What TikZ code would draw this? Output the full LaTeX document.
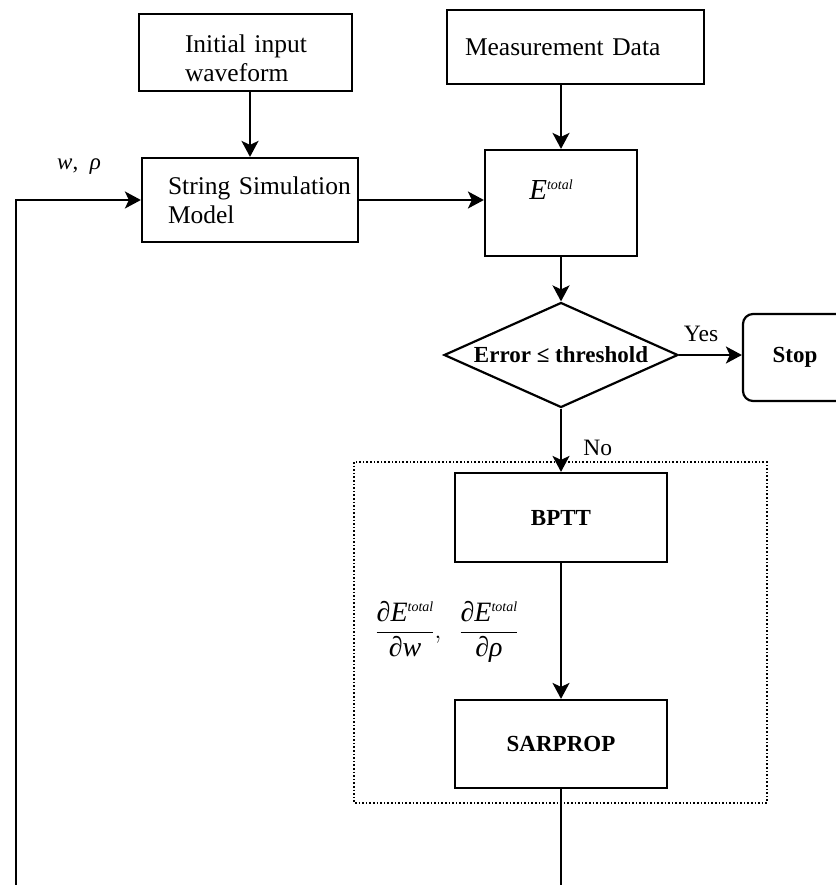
\documentclass[tikz,border=0pt]{standalone}
\usepackage{fontspec}
\usepackage{amsmath}
\setmainfont{Liberation Serif}
\usetikzlibrary{arrows.meta,shapes.geometric}
\newcommand{\etot}{\textit{E}\raisebox{10pt}{\fontsize{14}{14}\selectfont\itshape total}}

\begin{document}
\begin{tikzpicture}[
					x=1pt,y=-1pt,
					pbox/.style={rectangle,draw,line width=2.2pt,font=\fontsize{25.5}{29}\selectfont},
					bbox/.style={rectangle,draw,line width=2.2pt,font=\fontsize{23}{27}\selectfont\bfseries},
					farrow/.style={draw,line width=2pt,-{Stealth[length=16pt,width=17pt,inset=4pt]}},
					fline/.style={draw,line width=2pt},
					flabel/.style={font=\fontsize{23.5}{27}\selectfont}
					]
					\useasboundingbox (0,0) rectangle (835,885);
					\node[pbox,minimum height=77pt,text width=121pt,inner xsep=46pt,align=left] (init) at (245.5,52.5) {\rule{0pt}{29pt}\mbox{Initial input}\\waveform};
					\node[pbox,minimum height=74pt,text width=221pt,inner xsep=18pt,align=left] (meas) at (575.5,47) {Measurement Data};
					\node[pbox,minimum height=84pt,text width=164pt,inner xsep=26pt,align=left] (sim) at (250,200) {\mbox{String Simulation}\\Model};
					\node[pbox,minimum width=152pt,minimum height=106pt,text depth=26pt,font=\fontsize{29}{30}\selectfont] (etot) at (561,203) {\etot\kern20pt};
					\node[diamond,draw,line width=2.2pt,inner sep=0pt,aspect=2.23,minimum width=234pt,minimum height=105pt,font=\fontsize{23}{27}\selectfont\bfseries] (dec) at (561,355) {Error ≤ threshold};
					\node[bbox,rounded corners=10pt,minimum width=104pt,minimum height=87pt] (stop) at (795,357.5) {Stop};
					\node[bbox,minimum width=212pt,minimum height=89pt] (bptt) at (561,517.5) {BPTT};
					\node[bbox,minimum width=212pt,minimum height=88pt] (sarp) at (561,744) {SARPROP};
					\draw[line width=1.6pt,dotted] (354,462) rectangle (767,803);
					\coordinate (lbot) at (16,887);
					\coordinate (rbot) at (561,887);
					\draw[farrow] (init.south -| sim.north) -- (sim.north);
					\draw[farrow] (meas.south -| etot.north) -- (etot.north);
					\draw[farrow] (sim.east) -- (sim.east -| etot.west);
					\draw[farrow] (etot.south) -- (dec.north);
					\draw[farrow] (dec.east) -- node[flabel,pos=0.35,above=9pt] (yes) {Yes} (dec.east -| stop.west);
					\draw[farrow] (dec.south) -- node[flabel,pos=0.62,right=18pt] (no) {No} (bptt.north);
					\draw[farrow] (bptt.south) -- (sarp.north);
					\draw[fline] (sarp.south) -- (rbot);
					\draw[farrow] (lbot) |- (sim.west);
					\node[font=\fontsize{23}{26}\selectfont] (wrho) at (79,167) {\textit{w},\ \ \textit{ρ}};
					\node[font=\fontsize{28}{30}\selectfont] (grad) at (447,632) {$\dfrac{\text{∂\etot}}{\text{∂\textit{w}}},\ \ \dfrac{\text{∂\etot}}{\text{∂\textit{ρ}}}$};
				\end{tikzpicture}
\end{document}
